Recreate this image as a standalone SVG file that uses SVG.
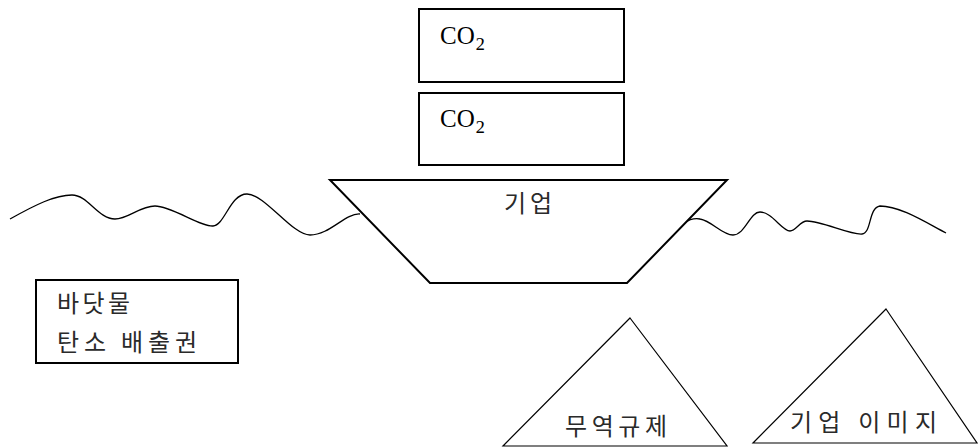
<svg xmlns="http://www.w3.org/2000/svg" width="979" height="448" viewBox="0 0 979 448">
<style>
.box{fill:#fff;stroke:#000;stroke-width:2}
.thin{fill:#fff;stroke:#000;stroke-width:1.2}
.wave{fill:none;stroke:#000;stroke-width:1.3}
.ko{font-family:"Noto Sans CJK KR","Noto Sans CJK SC",sans-serif;font-size:24px;fill:#2a2a2a}
.co{font-family:"Liberation Serif","DejaVu Serif",serif;font-size:25px;fill:#000}
.sub{font-size:31px}
</style>
<rect width="979" height="448" fill="#fff"/>
<g id="waves">
<path class="wave" d="M10,219 C35,205 55,195 72,195 C88,195 98,219 115,219 C128,219 140,206 155,206 C172,206 200,227 213,226 C225,225 230,194 247,194 C265,194 292,235 310,235 C330,235 345,213 360,214"/>
<path class="wave" d="M684,223 C690,219 695,218 700,219 C712,221 722,235 733,235 C745,235 750,212 760,212 C772,212 782,231 790,231 C796,231 800,221 807,221 C822,221 850,235 862,234 C872,233 868,208 880,206 C900,206 925,222 946,233"/>
</g>
<g id="co2-top">
<rect class="box" x="419" y="9" width="205" height="73"/>
<text class="co" x="440" y="44">CO<tspan class="sub">₂</tspan></text>
</g>
<g id="co2-bottom">
<rect class="box" x="419" y="93" width="205" height="72"/>
<text class="co" x="440" y="127">CO<tspan class="sub">₂</tspan></text>
</g>
<g id="company">
<polygon class="box" points="330,180 727,180 627,283 430,283"/>
<text class="ko" x="504" y="212" textLength="48" lengthAdjust="spacing">기업</text>
</g>
<g id="ballast">
<rect class="box" x="36" y="280" width="202" height="83"/>
<text class="ko" x="57" y="312" textLength="73" lengthAdjust="spacing">바닷물</text>
<text class="ko" x="57" y="351" textLength="140" lengthAdjust="spacing">탄소 배출권</text>
</g>
<g id="trade">
<polygon class="thin" points="630,318 727,446 503,446"/>
<text class="ko" x="565" y="435" textLength="102" lengthAdjust="spacing">무역규제</text>
</g>
<g id="image">
<polygon class="thin" points="886,309 977,443 753,443"/>
<text class="ko" x="790" y="431" textLength="147" lengthAdjust="spacing">기업 이미지</text>
</g>
</svg>
